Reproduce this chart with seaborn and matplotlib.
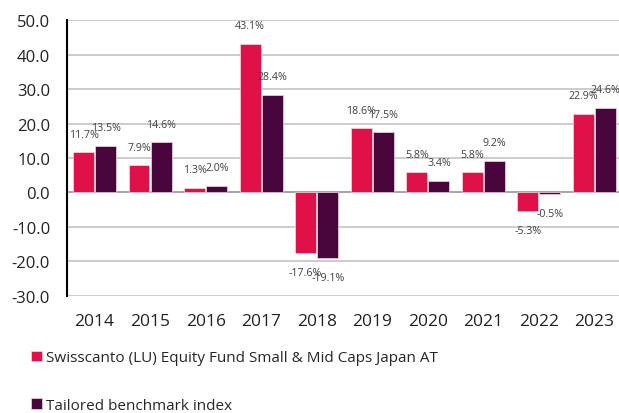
import numpy as np
import pandas as pd
import seaborn as sns
import matplotlib.pyplot as plt

years = ["2014", "2015", "2016", "2017", "2018", "2019", "2020", "2021", "2022", "2023"]
fund = [11.7, 7.9, 1.3, 43.1, -17.6, 18.6, 5.8, 5.8, -5.3, 22.9]
bench = [13.5, 14.6, 2.0, 28.4, -19.1, 17.5, 3.4, 9.2, -0.5, 24.6]
series = ["Swisscanto (LU) Equity Fund Small & Mid Caps Japan AT", "Tailored benchmark index"]
colors = ["#E01048", "#48063C"]

df = pd.DataFrame({
    "year": years * 2,
    "value": fund + bench,
    "series": [series[0]] * len(years) + [series[1]] * len(years),
})

sns.set_style("white")
plt.rcParams["font.family"] = ["Open Sans", "DejaVu Sans"]
plt.rcParams["axes.unicode_minus"] = False

fig = plt.figure(figsize=(6.19, 4.14), dpi=100)
ax = fig.add_axes([0.108, 0.283, 0.897, 0.666])

sns.barplot(data=df, x="year", y="value", hue="series", palette=colors, saturation=1,
            width=0.8, gap=0.06, edgecolor="#f4d8e0", linewidth=0.5, ax=ax, zorder=3)

# value labels
for cont in ax.containers:
    for bar in cont:
        h = bar.get_height()
        xc = bar.get_x() + bar.get_width() / 2
        off = 13 if h >= 0 else -14
        ax.annotate(f"{h:.1f}%", (xc, h), xytext=(0, off), textcoords="offset points",
                    ha="center", va="center", fontsize=7.7, color="#404040")

ax.set_ylim(-30, 50)
ax.set_xlim(-0.5, 9.5)
ax.set_yticks(np.arange(-30, 51, 10))
ax.set_yticklabels([f"{v:.1f}" for v in np.arange(-30, 51, 10)])
ax.grid(axis="y", color="#c4c4c4", linewidth=1.2, zorder=0)
ax.axhline(0, color="#a0a0a0", linewidth=1.2, zorder=2)
for s in ["top", "right", "bottom"]:
    ax.spines[s].set_visible(False)
ax.spines["left"].set_color("black")
ax.spines["left"].set_linewidth(1.5)
ax.tick_params(axis="y", labelsize=12, colors="#222222", length=0, pad=12)
ax.tick_params(axis="x", labelsize=12.5, colors="#222222", length=0, pad=12)
ax.set_xlabel("")
ax.set_ylabel("")

handles, labels = ax.get_legend_handles_labels()
ax.legend_.remove()
fig.legend(handles, labels, loc="upper left", bbox_to_anchor=(0.05, 0.151),
           frameon=False, fontsize=11, handlelength=0.7, handleheight=0.7,
           handletextpad=0.3, labelspacing=2.1, borderaxespad=0, borderpad=0)

fig.savefig("out.png", dpi=100)
